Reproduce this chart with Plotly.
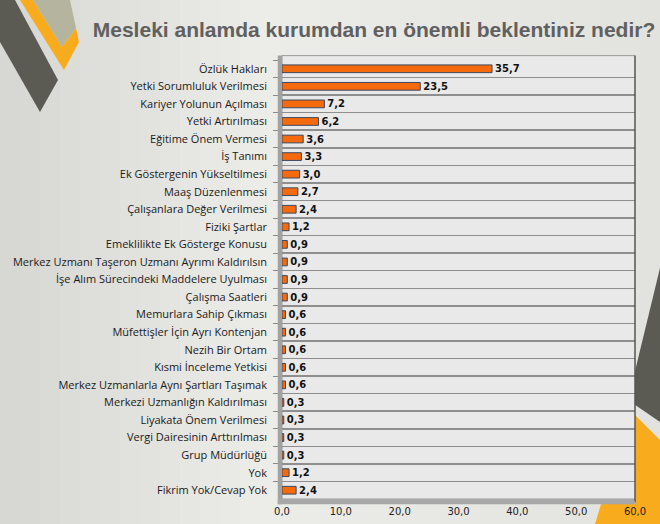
import plotly.graph_objects as go

categories = [
    "Özlük Hakları",
    "Yetki Sorumluluk Verilmesi",
    "Kariyer Yolunun Açılması",
    "Yetki Artırılması",
    "Eğitime Önem Vermesi",
    "İş Tanımı",
    "Ek Göstergenin Yükseltilmesi",
    "Maaş Düzenlenmesi",
    "Çalışanlara Değer Verilmesi",
    "Fiziki Şartlar",
    "Emeklilikte Ek Gösterge Konusu",
    "Merkez Uzmanı Taşeron Uzmanı Ayrımı Kaldırılsın",
    "İşe Alım Sürecindeki Maddelere Uyulması",
    "Çalışma Saatleri",
    "Memurlara Sahip Çıkması",
    "Müfettişler İçin Ayrı Kontenjan",
    "Nezih Bir Ortam",
    "Kısmi İnceleme Yetkisi",
    "Merkez Uzmanlarla Aynı Şartları Taşımak",
    "Merkezi Uzmanlığın Kaldırılması",
    "Liyakata Önem Verilmesi",
    "Vergi Dairesinin Arttırılması",
    "Grup Müdürlüğü",
    "Yok",
    "Fikrim Yok/Cevap Yok",
]
values = [35.7, 23.5, 7.2, 6.2, 3.6, 3.3, 3.0, 2.7, 2.4, 1.2,
          0.9, 0.9, 0.9, 0.9, 0.6, 0.6, 0.6, 0.6, 0.6,
          0.3, 0.3, 0.3, 0.3, 1.2, 2.4]
x_ticks = [0, 10, 20, 30, 40, 50, 60]
title_text = "Mesleki anlamda kurumdan en önemli beklentiniz nedir?"

W, H = 660, 524
L, R, T, B = 282, 25, 60, 25
PW, PH = W - L - R, H - T - B

fig = go.Figure()
fig.add_trace(go.Bar(
    x=values,
    y=categories,
    orientation="h",
    width=0.44,
    marker=dict(color="#f46a0c", line=dict(color="#3c4a60", width=1)),
    text=values,
    texttemplate="%{x:.1f}",
    textposition="outside",
    constraintext="none",
    cliponaxis=False,
    textfont=dict(family="DejaVu Sans", size=10, color="#111111", weight="bold"),
    hoverinfo="skip",
))

shapes = []
# background gradient strips (decorative)
def lerp(c1, c2, t):
    return "#%02x%02x%02x" % tuple(round(a + (b - a) * t) for a, b in zip(c1, c2))
c_left, c_mid, c_right = (214, 214, 210), (236, 236, 232), (226, 226, 222)

def px(xp):
    return (xp - L) / PW
def py(yp):
    return (H - B - yp) / PH

n = 33
for i in range(n):
    xc = (i + 0.5) / n
    if xc < 0.4:
        col = lerp(c_left, c_mid, xc / 0.4)
    else:
        col = lerp(c_mid, c_right, (xc - 0.4) / 0.6)
    shapes.append(dict(type="rect", xref="paper", yref="paper", layer="below",
                       x0=px(i * W / n), x1=px((i + 1.05) * W / n),
                       y0=py(H + 5), y1=py(-5), fillcolor=col, line=dict(width=0)))

def path(pts):
    return "M " + " L ".join(f"{px(x):.4f},{py(y):.4f}" for x, y in pts) + " Z"

# top-left decorations
shapes.append(dict(type="path", xref="paper", yref="paper", layer="below",
                   path=path([(0, 0), (15, 0), (58, 80), (40, 112), (0, 42)]),
                   fillcolor="#5b5b53", line=dict(width=0)))
shapes.append(dict(type="path", xref="paper", yref="paper", layer="below",
                   path=path([(20, 0), (33, 0), (62, 47), (76, 28), (79, 42), (64, 70)]),
                   fillcolor="#f8ab1c", line=dict(width=0)))
shapes.append(dict(type="path", xref="paper", yref="paper", layer="below",
                   path=path([(33, 0), (70, 0), (76, 28), (62, 47)]),
                   fillcolor="#b5b49e", line=dict(width=0)))
# bottom-right decorations
shapes.append(dict(type="path", xref="paper", yref="paper", layer="below",
                   path=path([(660, 268), (628, 400), (660, 422)]),
                   fillcolor="#5b5b53", line=dict(width=0)))
shapes.append(dict(type="path", xref="paper", yref="paper", layer="below",
                   path=path([(595, 524), (630, 410), (660, 440), (660, 524)]),
                   fillcolor="#f8ab1c", line=dict(width=0)))
# plot area background (3D back wall)
shapes.append(dict(type="rect", xref="x domain", yref="y domain", layer="below",
                   x0=0, x1=1, y0=0, y1=1.01, fillcolor="#e9e9e9",
                   line=dict(color="#9a9a9a", width=1)))
# left wall
shapes.append(dict(type="rect", xref="x domain", yref="y domain", layer="above",
                   x0=-0.012, x1=0, y0=-0.012, y1=1.01, fillcolor="#a2a2a2",
                   line=dict(width=0)))
# floor
shapes.append(dict(type="rect", xref="x domain", yref="y domain", layer="above",
                   x0=-0.012, x1=1.0, y0=-0.012, y1=0, fillcolor="#a8a8a8",
                   line=dict(width=0)))
# right edge
shapes.append(dict(type="line", xref="x domain", yref="y domain", layer="above",
                   x0=1.0, x1=1.0, y0=-0.005, y1=1.01, line=dict(color="#333333", width=1)))

fig.update_layout(
    width=W, height=H,
    margin=dict(l=L, r=R, t=T, b=B, autoexpand=False),
    paper_bgcolor="#e4e4e0",
    plot_bgcolor="rgba(0,0,0,0)",
    separators=",.",
    showlegend=False,
    shapes=shapes,
    title=dict(text=title_text, xref="container", yref="container",
               x=374 / W, y=1 - 30 / H, xanchor="center", yanchor="middle",
               font=dict(family="Liberation Sans", size=21, color="#606060", weight="bold")),
    xaxis=dict(range=[0, 60], tickvals=x_ticks, tickformat=".1f",
               showgrid=False, zeroline=False, showline=False,
               ticks="outside", ticklen=3, tickcolor="#888888",
               ticklabelstandoff=0,
               tickfont=dict(family="DejaVu Sans", size=10, color="#222222")),
    yaxis=dict(autorange="reversed", tickson="boundaries",
               showgrid=True, gridcolor="#8e8e8e", gridwidth=1.5,
               zeroline=False, showline=False,
               ticks="outside", ticklen=8, tickcolor="#8a8a8a",
               ticklabelstandoff=14,
               tickfont=dict(family="Open Sans", size=11, color="#1a1a1a")),
)

fig.write_html("out.html",
               config={"displayModeBar": False, "staticPlot": True},
               post_script="document.body.style.margin='0';document.body.style.overflow='hidden';")
